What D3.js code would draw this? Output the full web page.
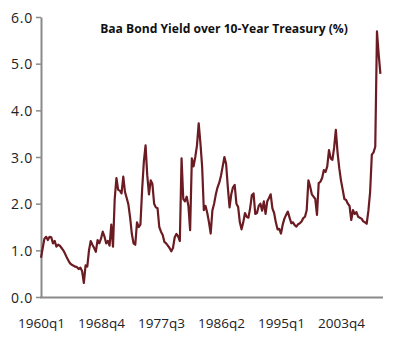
<!DOCTYPE html>
<html><head><meta charset="utf-8">
<script src="https://cdn.jsdelivr.net/npm/d3@7"></script>
<style>
html,body{margin:0;padding:0;background:#fff;}
svg{display:block;}
</style></head>
<body>
<script>
// ---- data ----
const title = "Baa Bond Yield over 10-Year Treasury (%)";
const startYear = 1960;
const spread = [
0.84,1.05,1.25,1.29,1.22,1.29,1.28,1.15,1.2,1.08,
1.12,1.1,1.05,1.0,0.93,0.85,0.78,0.72,0.69,0.67,
0.65,0.64,0.6,0.63,0.55,0.3,0.68,0.65,1.0,1.2,
1.12,1.05,0.97,1.22,1.15,1.25,1.4,1.3,1.15,1.2,
1.1,1.55,1.08,2.1,2.55,2.3,2.28,2.22,2.58,2.25,
2.12,1.98,1.7,1.35,1.15,1.12,1.6,1.5,1.55,2.3,
2.9,3.25,2.6,2.2,2.5,2.42,2.0,1.92,1.9,1.5,
1.4,1.33,1.18,1.15,1.1,1.05,0.98,1.05,1.28,1.35,
1.3,1.2,2.97,2.1,2.05,2.15,1.95,1.43,2.97,2.8,
3.0,3.25,3.72,3.3,2.8,1.86,1.95,1.8,1.6,1.36,
1.86,2.0,2.2,2.35,2.45,2.6,2.8,3.0,2.85,2.35,
1.92,2.2,2.35,2.4,2.0,1.93,1.6,1.45,1.6,1.8,
1.72,1.7,1.9,2.18,2.22,1.78,1.8,1.95,2.0,1.85,
2.05,1.78,2.05,2.12,2.2,1.9,1.8,1.6,1.45,1.46,
1.36,1.55,1.68,1.76,1.83,1.7,1.58,1.6,1.54,1.51,
1.56,1.58,1.62,1.69,1.72,1.86,2.5,2.37,2.2,2.15,
2.1,1.76,2.44,2.47,2.55,2.72,2.68,2.8,3.15,2.97,
2.94,3.2,3.58,3.1,2.76,2.5,2.3,2.1,2.08,2.0,
1.95,1.65,1.86,1.78,1.82,1.72,1.7,1.68,1.62,1.6,
1.57,1.85,2.25,3.05,3.1,3.22,5.69,5.2,4.78
];
const quarters = spread.map((d,i)=> (startYear + Math.floor(i/4)) + "q" + (i%4+1));
const xTickLabels = ["1960q1","1968q4","1977q3","1986q2","1995q1","2003q4"];
const yTicks = [0,1,2,3,4,5,6];

// ---- chart ----
const W = 400, H = 347;
const svg = d3.select("body").append("svg").attr("width",W).attr("height",H);

const x = d3.scalePoint().domain(quarters).range([41, 380.4]);
const y = d3.scaleLinear().domain([0,6]).range([297,17]);

const font = "'Open Sans', sans-serif";

// y axis
const yAxis = d3.axisLeft(y).tickValues(yTicks).tickFormat(d3.format(".1f")).tickSize(5).tickSizeOuter(0);
const gy = svg.append("g").attr("transform","translate(41,0)").call(yAxis);
gy.select(".domain").attr("stroke","#8a8a8a").attr("stroke-width",2);
gy.selectAll(".tick line").attr("stroke","#8a8a8a").attr("stroke-width",1.5);
gy.selectAll(".tick text").attr("fill","#222").attr("font-family",font).attr("font-size",14)
  .attr("x",-8).attr("dy","0.36em").attr("letter-spacing","0.8px");

// x axis
const xAxis = d3.axisBottom(x).tickValues(xTickLabels).tickSize(0).tickSizeOuter(0);
const gx = svg.append("g").attr("transform","translate(0,297)").call(xAxis);
gx.select(".domain").attr("d","M40,0.5H383").attr("stroke","#8a8a8a").attr("stroke-width",2);
gx.selectAll(".tick text").attr("fill","#222").attr("font-family",font).attr("font-size",13.5)
  .attr("y",0).attr("dy","31px");

// line
const line = d3.line().x((d,i)=>x(quarters[i])).y(d=>y(d));
svg.append("path").datum(spread).attr("d",line)
  .attr("fill","none").attr("stroke","#6b1b22").attr("stroke-width",2.2).attr("stroke-linejoin","round");

// title
const t = svg.append("text").attr("x",224).attr("y",33).attr("text-anchor","middle")
  .attr("font-family",font).attr("font-weight","bold").attr("font-size",12).attr("fill","#111").text(title);
const len = t.node().getComputedTextLength();
t.attr("font-size", 12*248/len);
</script>
</body></html>
